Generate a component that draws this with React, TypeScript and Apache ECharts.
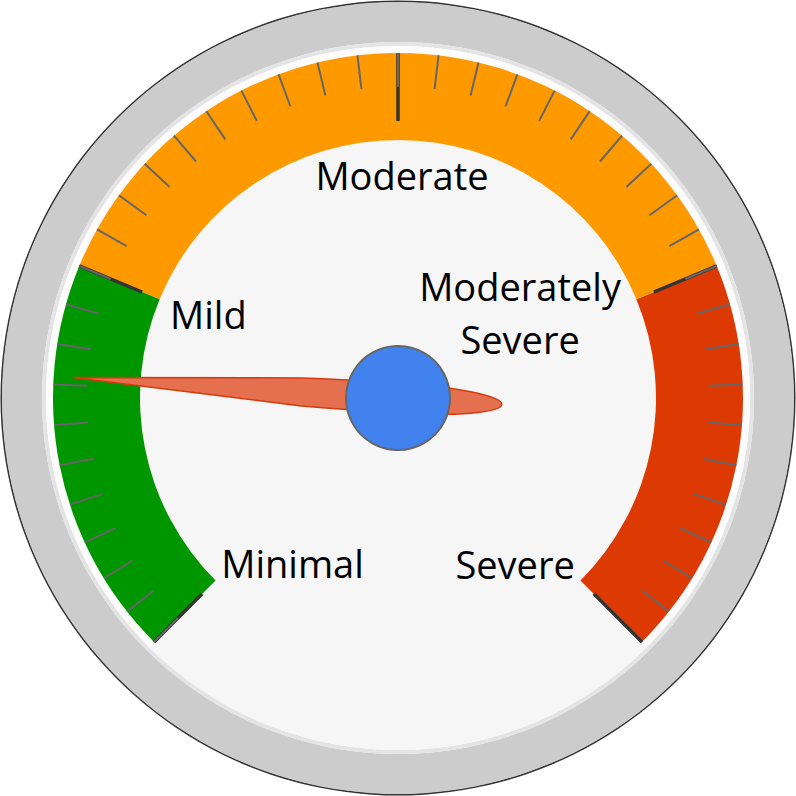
import React, { useEffect, useRef } from "react";
import * as echarts from "echarts";

const LEVEL_LABELS = ["Minimal", "Mild", "Moderate", "Moderately\nSevere", "Severe"];
const SCALE_MIN = 0;
const SCALE_MAX = 100;
const BAND_STOPS = [0.25, 0.75, 1];
const BAND_COLORS = ["#009600", "#ff9900", "#dd3a03"];
const NEEDLE_VALUE = [18];

const NEEDLE_PATH =
  "path://M15 0 L29 230 Q30 280 30 326 C30 383 23.3 430 15 430 C6.7 430 0 383 0 326 Q0 280 1 230 Z";

function ring(radius: number, width: number, color: string, start = 90, end = -270) {
  return {
    type: "gauge",
    center: ["50%", "50%"],
    radius,
    startAngle: start,
    endAngle: end,
    min: SCALE_MIN,
    max: SCALE_MAX,
    silent: true,
    axisLine: { show: true, lineStyle: { width, color: [[1, color]] } },
    axisTick: { show: false },
    splitLine: { show: false },
    axisLabel: { show: false },
    pointer: { show: false },
    anchor: { show: false },
    title: { show: false },
    detail: { show: false },
    data: [],
  };
}

const FONT = { fontSize: 38, fontFamily: "Open Sans", lineHeight: 53, color: "#000000" };

export default function App() {
  const ref = useRef<HTMLDivElement>(null);
  useEffect(() => {
    if (!ref.current) return;
    const chart = echarts.init(ref.current, null, { renderer: "svg" });
    const bandWidth = 87;
    const option = {
      animation: false,
      backgroundColor: "#ffffff",
      series: [
        ring(397.5, 1.8, "#333333"),
        ring(396, 40, "#cccccc"),
        ring(356, 4, "#e4e4e4"),
        ring(352, 352, "#f6f6f6"),
        ring(352, 7, "#fcfcfc", 225, -45),
        {
          type: "gauge",
          center: ["50%", "50%"],
          radius: 345,
          startAngle: 225,
          endAngle: -45,
          min: SCALE_MIN,
          max: SCALE_MAX,
          splitNumber: LEVEL_LABELS.length - 1,
          axisLine: {
            lineStyle: {
              width: bandWidth,
              color: BAND_STOPS.map((s, i) => [s, BAND_COLORS[i]]),
            },
          },
          splitLine: {
            distance: -bandWidth,
            length: 68,
            lineStyle: { color: "#333333", width: 3.5 },
          },
          axisTick: {
            splitNumber: 10,
            distance: -bandWidth,
            length: 34,
            lineStyle: { color: "#666666", width: 2 },
          },
          axisLabel: {
            distance: 114,
            ...FONT,
            formatter: (v: number) => {
              const idx = Math.round(
                ((v - SCALE_MIN) / (SCALE_MAX - SCALE_MIN)) * (LEVEL_LABELS.length - 1)
              );
              const text = LEVEL_LABELS[idx] ?? "";
              return text
                .split("\n")
                .map((line) => `{s${idx}|${line}}`)
                .join("\n");
            },
            rich: {
              s0: { ...FONT, padding: [0, 0, 24, 0] },
              s1: { ...FONT, padding: [24, 0, 0, 3] },
              s2: { ...FONT, padding: [0, 0, 0, 8] },
              s3: { ...FONT, align: "center", padding: [20, 8, 0, 0] },
              s4: { ...FONT, padding: [0, 0, 22, 0] },
            },
          },
          pointer: {
            show: true,
            icon: NEEDLE_PATH,
            width: 30,
            length: 430,
            offsetCenter: [0, 104],
            keepAspect: false,
            itemStyle: {
              color: "#e5704f",
              borderColor: "#d63a0c",
              borderWidth: 1.5,
            },
          },
          anchor: {
            show: true,
            showAbove: true,
            size: 104,
            itemStyle: {
              color: "#4282ee",
              borderColor: "#666666",
              borderWidth: 2,
            },
          },
          title: { show: false },
          detail: { show: false },
          data: NEEDLE_VALUE.map((v) => ({ value: v })),
        },
      ],
    };
    chart.setOption(option as any);
    return () => chart.dispose();
  }, []);
  return (
    <div
      ref={ref}
      style={{ position: "absolute", left: 0, top: 0, width: 796, height: 796 }}
    />
  );
}
